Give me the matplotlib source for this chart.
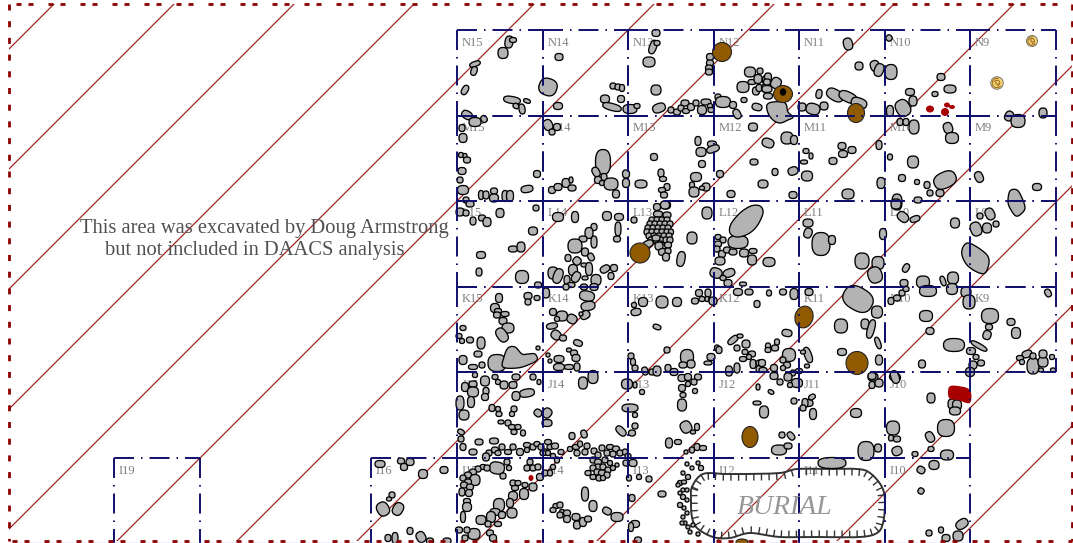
import numpy as np
import matplotlib as mpl
mpl.use('Agg')
import matplotlib.pyplot as plt
from matplotlib.patches import Ellipse, Polygon, Arc

plt.rcParams['lines.scale_dashes'] = False

grid_x = [457, 543, 628, 714, 799, 885, 970, 1056]
grid_y = [30, 115.5, 201, 287, 372, 458, 544]
row_names = ['N', 'M', 'L', 'K', 'J', 'I']
col_names = [15, 14, 13, 12, 11, 10, 9]
hatch_sums = [58, 178, 298, 418, 538, 658, 778, 898, 1018, 1138, 1258, 1378, 1498]

# x, y, width, height, angle
stones_n = [(509,42,7,11,10),(513,40,6,4),(503,53,9,10),(475,64,10,4,-20),(474,71,5,8,20),(465,90,5,9,30),
 (512,100,16,6,10),(527,101,6,3,20),(516,106,5,4,30),(522,109,5,9,-10),(467,115,10,7,30),(475,122,11,8),(484,119,5,6,-30),
 (559,57,7,6),(548,87,17,16,20),(558,106,8,6),(613,86,5,5),(618,87,5,5),(622,88,4,6),(605,99,8,7),(621,99,6,6),
 (612,107,18,6,15),(630,109,13,8),(637,106,5,4),(656,33,7,6),(653,47,6,13,20),(657,43,5,4),(649,62,11,9),(656,90,9,9),
 (659,108,12,8,-20),(671,110,5,5),(677,112,6,5),(681,108,5,5),(686,111,6,4),(685,103,7,5),(691,107,6,6),(696,103,5,5),
 (702,110,8,8),(706,102,9,5),(710,106,4,4),(711,110,5,4),(710,57,6,6),(710,63,6,5),(709,68,6,5),(709,72,6,5),
 (718,97,5,5),(723,102,14,10),(733,105,6,6),(744,100,5,4),(750,72,10,9),(760,71,5,5),(743,87,11,10),(752,82,7,4),
 (758,79,7,8),(756,91,6,7),(759,88,5,6),(766,80,6,8),(765,88,6,7),(757,107,9,6,15),(737,114,6,9,-30),(768,77,6,7),
 (767,82,6,5),(776,83,9,10,30),(767,89,9,6),(768,96,8,5),(848,44,8,11,-15),(802,107,7,7),(813,109,13,10,15),(824,106,7,7),
 (819,94,5,8,10),(835,95,17,10,30),(848,97,18,9,25),(859,103,15,9,20),(859,66,7,7),(875,66,8,10,-20),(879,70,8,12,20),
 (891,72,11,14),(889,38,5,5,40),(890,111,6,10),(903,108,13,16,-30),(913,101,7,9),(910,92,8,6),(941,77,7,6),(950,89,11,7),
 (935,94,5,4),(1043,113,7,9),(1009,116,7,9,30),(1018,121,13,12)]
stones_m = [(462,128,5,6),(463,138,7,8),(461,155,4,4),(465,156,3,4),(467,160,6,5),(462,171,7,6),(460,180,5,5),(463,190,10,8),
 (466,200,5,5),(470,204,7,5),(481,195,4,8),(486,195,5,7),(494,191,6,5),(494,198,8,7),(505,196,5,10),(510,196,6,10),
 (527,189,11,6,-10),(537,174,6,6),(548,125,8,10,-25),(557,127,6,6),(552,132,5,5),(603,162,14,24),(596,172,6,9,-30),
 (604,177,5,6),(598,180,6,6),(602,183,4,4),(611,184,13,11),(616,194,6,7),(552,190,6,6),(558,187,7,6),(566,183,7,8),
 (572,188,7,5),(571,180,3,5),(626,174,6,7),(626,183,6,8),(641,184,11,7),(654,157,6,6),(661,173,5,7),(663,179,6,4),
 (667,187,5,6),(662,190,6,4),(664,195,6,5),(666,205,8,7),(698,141,5,8),(712,144,8,5),(713,149,12,6,-20),(701,152,9,8),
 (702,164,6,6),(696,177,10,8),(692,185,4,5),(694,192,9,9),(706,187,7,7),(702,188,4,3),(720,174,6,6),(731,194,7,6),
 (753,127,8,7),(754,162,7,5),(763,184,9,7),(768,143,11,8,20),(787,138,11,11),(794,140,6,8),(806,151,5,4),(811,156,3,5),
 (804,162,6,3),(793,171,9,7,-20),(775,172,5,6),(807,176,10,9),(793,195,7,6),(842,146,7,6),(852,150,7,6),(843,154,8,6),
 (833,161,7,6),(848,194,11,9),(879,145,5,8),(890,157,4,5),(913,162,10,11),(902,178,6,6),(881,183,7,10),(917,182,4,4),
 (927,185,5,6),(930,193,5,5),(940,193,7,6),(945,180,22,15,-25),(897,202,9,15),(918,200,7,5),(900,122,5,6),(906,122,5,6),
 (914,127,9,13),(948,128,8,10,-20),(952,138,12,10),(979,177,7,10,-25),(1037,187,8,6)]
stones_l = [(460,212,7,7),(466,213,5,5),(473,221,5,7),(482,218,6,5),(487,222,7,8),(500,213,7,8),(536,208,5,5),(533,231,8,7),
 (481,255,8,6),(513,249,8,5),(521,247,7,9),(479,272,5,7),(522,277,12,12),(538,285,6,5),(558,217,10,8),(575,217,6,10),
 (607,216,8,8),(619,217,8,6),(634,220,5,5),(594,227,5,6),(589,233,7,10),(583,239,7,5),(594,242,5,11),(575,246,13,13),
 (585,252,6,7),(591,257,5,7,-30),(568,258,5,6),(577,261,7,7,40),(584,265,5,3),(589,269,6,12),(573,270,8,10),
 (605,269,9,6,-30),(614,268,6,6),(611,276,5,6),(576,277,7,10,30),(553,273,9,11),(558,276,8,14,20),(567,280,5,8),
 (585,278,5,3),(596,280,9,10),(571,285,7,4),(566,287,5,5),(584,287,6,5),(594,287,7,6),(618,229,5,13),(617,239,6,5),
 (665,205,8,7),(657,207,6,6),(658,214,8,5),(667,215,7,5),
 (652,220,5,5),(657,220,5,5),(662,220,5,5),(667,220,5,5),(650,224,5,5),(655,224,5,5),(660,224,5,5),(665,224,5,5),(670,224,5,5),
 (648,228,5,5),(653,228,5,5),(658,228,5,5),(663,228,5,5),(668,228,5,5),(647,232,5,5),(652,232,5,5),(657,232,5,5),(662,232,5,5),
 (667,232,5,5),(671,232,4,5),(649,236,5,5),(654,236,5,5),(659,236,5,5),(664,236,5,5),(669,236,5,5),(651,240,5,5),(656,240,5,5),
 (661,240,5,5),(666,240,5,5),(670,240,5,5),(660,244,5,5),(648,244,10,6,-25),(656,238,7,5),(659,246,7,7),(668,245,6,5),
 (663,252,8,6),(668,251,5,5),(666,257,6,7),(692,238,9,11),(681,259,7,14,10),(707,213,9,11),(738,242,19,12),(718,237,5,4),
 (723,240,5,5),(718,244,6,5),(717,249,5,5),(722,254,6,6),(727,250,6,5),(733,252,7,5),(744,253,8,7),(753,251,7,4),(752,260,8,9),
 (720,261,9,7),(716,273,11,9,20),(729,273,11,7,-20),(723,278,5,4),(728,283,7,6),(769,262,11,8),(808,223,9,7),
 (808,233,7,9,20),(821,244,17,22),(832,240,6,8),(883,234,6,10),(862,261,13,15),(878,263,11,12),(875,275,13,15,-20),(896,204,9,9),
 (903,217,11,8,40),(915,219,9,5,-20),(955,223,8,9),(906,268,5,8,30),(904,283,7,6),(923,282,12,11),(953,278,10,11),(943,281,4,9,-20),
 (980,216,5,5),(990,214,8,11,-25),(976,229,10,13,-20),(987,228,8,9),(996,224,5,5)]
stones_k = [(499,298,6,8),(528,296,7,6),(528,302,5,5),(537,298,5,4),(546,293,6,9),(495,308,8,8),(498,311,6,4),(497,315,6,5),
 (505,314,7,4),(503,321,7,6),(508,328,11,9),(502,335,9,14,-35),(463,328,5,4),(459,336,5,4),(462,341,4,4),(470,340,6,5),(481,343,7,11),
 (478,354,7,5),(463,360,7,8),(473,367,8,4),(482,365,5,5),(538,348,3,3),(548,355,3,3),(550,361,3,3),(497,363,17,16),(553,312,6,6),
 (562,316,10,9),(557,319,4,4),(572,319,9,8,30),(552,326,10,5,-10),(556,335,9,8,40),(563,338,6,5),(578,343,8,5,20),(569,350,4,3),
 (574,353,6,5),(576,358,7,6),(559,359,9,6),(559,367,10,6),(569,367,8,4),(577,367,5,7),(587,296,14,9,10),(588,306,13,8,-10),
 (585,315,9,7,-30),(581,314,3,3),(643,302,8,8),(634,305,4,4),(636,312,9,6,-10),(662,302,11,11),(677,302,8,8),(657,327,7,4,20),
 (667,350,5,5),(687,357,12,14),(691,364,7,7),(683,365,7,5),(631,356,5,5),(633,362,4,6),(635,368,5,5),(645,371,5,7,-20),(652,372,5,5),
 (657,371,7,9),(668,368,5,6),(674,372,7,6),(695,301,6,5),(699,293,6,6),(708,293,5,7),(702,299,5,4),(707,299,3,4),(713,301,7,7),
 (738,292,8,6),(743,284,6,3),(749,292,7,5),(757,304,5,6),(733,340,11,5,-40),(740,336,5,3),(746,344,7,7),(737,348,5,5),(745,352,5,4),
 (752,354,6,5),(743,359,6,4),(749,357,4,4),(753,364,5,8),(760,363,7,5),(760,369,7,6),(729,371,6,9),(737,368,5,9),(711,357,7,6),
 (708,363,7,3),(717,348,4,5),(719,350,5,6),(769,293,4,5),(783,292,6,5),(794,294,7,10),(809,292,7,6),(841,326,12,13),(877,312,10,11),
 (865,324,7,9),(871,329,6,18,15),(878,343,4,11,-20),(842,352,8,6),(787,333,9,6,10),(789,355,12,12),(808,355,6,15,-20),(803,352,4,3),
 (807,366,4,3),(799,371,6,4),(777,342,4,5),(768,346,4,5),(775,348,6,5),(768,350,5,4),(783,360,5,5),(787,365,6,5),(774,368,6,6),
 (762,363,6,6),(763,370,7,4),(783,368,4,4),(793,373,4,5),(879,360,6,9),(873,377,9,7),(891,301,5,6),(897,298,6,5),(902,293,5,5),
 (906,289,5,4),(928,291,16,10),(952,289,10,10),(966,292,9,9),(969,302,11,13),(926,316,12,10),(930,331,7,6),(954,345,20,12),
 (979,346,17,4,30),(971,351,8,6),(976,357,5,4),(981,363,6,5),(973,365,7,7),(970,372,8,8),(922,364,6,7),(1048,293,5,7,-30),
 (990,316,16,14),(989,327,6,5),(987,335,7,8,20),(1011,322,7,6),(1016,333,8,10),(1033,366,11,15),(1043,362,9,9),(1043,354,7,7),
 (1027,354,9,6,-20),(1020,358,6,4),(1052,357,4,4),(1033,356,5,5),(1041,370,4,3),(1022,362,4,4),(1053,370,4,3),(895,377,10,8,30),
 (858,299,30,22,30)]
stones_j = [(465,387,6,8),(473,384,7,5),(473,392,10,9),(485,381,8,9),(475,375,4,4),(495,377,5,4),(498,382,4,4),(504,385,7,7),(513,385,7,6),
 (516,377,7,5),(533,377,5,5),(539,382,3,4),(527,393,14,7,-10),(516,396,7,8),(486,391,5,6),(485,397,6,6),(460,403,7,13),(471,402,6,10),
 (464,415,9,9),(492,408,5,6),(498,409,4,4),(499,414,5,4),(514,409,5,5),(512,414,4,4),(538,413,7,6,40),(547,413,8,9,40),(547,423,9,6),
 (501,422,5,3),(508,423,5,5),(512,427,6,4),(518,427,5,4),(514,432,5,4),(523,433,4,5),(461,432,6,4,30),(461,439,5,5),(463,447,5,6),
 (479,442,7,5),(494,441,8,5),(473,452,7,5),(502,447,5,5),(508,452,6,4),(513,447,5,5),(520,452,6,6),(495,450,6,5),(489,453,5,5),
 (486,457,6,7),(498,453,5,4),(527,445,6,4),(527,450,4,4),(533,447,5,5),(537,444,5,4),(541,447,5,5),(545,452,5,5),(548,442,6,4),
 (550,447,5,4),(543,453,5,4),(555,446,6,5),(561,452,5,4),(548,453,4,4),(553,456,4,4),(572,436,5,6),(584,434,5,7,-20),(576,447,6,4),
 (580,444,4,5),(570,449,4,4),(587,446,5,5),(585,452,5,5),(577,453,5,5),(594,451,5,5),(602,448,5,5),(598,455,5,5),(610,447,6,4),
 (616,449,6,5),(620,453,5,5),(625,452,4,5),(628,456,5,4),(607,453,5,5),(613,454,5,5),(583,383,8,11),(593,377,9,12),(627,384,10,9),
 (635,385,3,5),(642,392,4,4),(630,408,15,7),(635,415,4,4),(635,426,5,5),(621,431,6,11,-45),(632,433,6,5),(682,378,7,6),(688,377,6,6),
 (698,377,6,5),(694,382,5,5),(682,388,6,6),(688,384,4,4),(683,395,5,4),(695,391,4,4),(682,405,8,11),(686,427,10,11,-30),(693,432,4,3),
 (697,427,4,6),(669,443,6,9),(678,442,6,4),(697,447,5,6),(703,448,6,4),(692,450,4,5),(686,452,3,3),(758,387,3,5),(757,403,7,3),
 (764,412,8,11),(771,392,5,3,30),(782,435,5,5),(791,436,5,8,-40),(779,450,14,9),(788,446,7,5),(794,401,5,5),(808,403,9,6),(805,403,5,8),
 (812,397,6,4,-30),(813,414,6,10),(803,408,5,5),(856,413,10,8),(774,376,7,6),(780,382,5,5),(788,377,7,7),(797,383,10,8),(790,385,4,4),
 (872,376,7,6),(872,385,5,6),(879,383,7,7),(895,377,7,12,-20),(931,398,7,9),(952,404,7,9),(957,405,8,9),(955,411,10,7),(893,428,12,13),
 (891,438,4,5),(897,439,6,5),(897,451,9,8,-20),(866,451,15,18),(878,448,6,7),(930,437,7,10,-30),(946,428,16,16),(931,449,5,4),
 (915,454,5,4),(947,455,12,9)]
stones_i = [(483,467,5,4),(478,469,5,5),(473,472,6,5),(468,475,6,5),(463,478,5,5),(475,480,9,10),(468,482,6,5),(464,485,6,5),(470,487,6,5),
 (462,492,5,7),(469,493,6,6),(467,501,6,4),(467,507,8,8),(463,517,4,10),(497,468,14,11,10),(487,468,5,5),(507,462,5,5),(509,468,4,4),
 (503,476,5,5),(530,462,5,5),(527,468,5,5),(533,468,5,5),(540,477,6,6),(545,473,5,5),(550,473,4,5),(557,460,4,5),(553,467,4,4),
 (538,467,5,5),(513,483,5,5),(518,483,5,4),(515,488,6,4),(525,485,5,4),(533,487,7,7),(524,494,8,10),(513,496,8,8),(510,503,6,8),
 (499,505,10,12),(495,512,9,6),(512,513,9,9),(502,515,6,6),(491,517,8,10),(481,520,9,8),(488,524,5,5),(498,524,6,4),(490,533,6,5),
 (474,534,11,10),(459,530,6,5),(467,530,5,5),(493,538,6,6),(465,538,5,5),(585,494,6,13),(593,506,7,10),(607,511,8,6,30),(617,517,11,8),
 (556,506,5,4),(560,505,5,5),(553,510,5,4),(562,512,4,4),(567,513,6,5),(560,515,5,5),(567,519,6,6),(576,517,7,6),(577,525,6,7),
 (583,522,6,8),(588,519,6,5),(593,460,5,5),(598,462,6,5),(605,460,5,5),(610,463,4,4),(598,467,5,5),(593,468,5,5),(603,467,5,5),
 (608,470,5,5),(613,468,4,4),(588,473,5,4),(597,472,5,5),(602,473,6,5),(607,475,5,5),(593,477,5,4),(599,478,5,5),(603,478,4,4),
 (617,465,3,3),(626,463,5,5),(633,463,7,6),(629,478,4,5),(639,477,4,4),(649,479,5,5),(632,498,5,6),(662,494,7,5),(635,524,8,6),
 (631,527,4,8),(638,540,6,5),(687,464,3,3),(692,468,3,3),(683,473,3,3),(688,477,4,4),(680,483,4,4),(684,482,4,3),(678,485,3,3),
 (698,463,3,3),(701,468,4,4),(683,490,3,3),(680,493,3,3),(683,497,4,4),(680,505,4,4),(687,500,3,3),(684,508,3,3),(687,513,3,3),
 (683,517,3,3),(685,523,3,3),(688,527,3,3),(690,532,3,3),(698,534,3,3),(693,525,3,3),(682,523,3,3),(687,490,3,3),
 (380,464,9,6),(401,461,6,5),(410,462,7,6),(404,467,6,6),(423,474,8,8),(444,470,7,6),(392,495,5,5),(389,499,4,3),(383,509,11,13,-30),
 (398,509,9,12,30),(410,531,5,6),(421,537,8,10,-30),(395,538,5,10),(388,538,5,6),(430,541,6,5),(447,541,7,5),
 (832,463,27,10),(934,465,9,8),(921,470,7,6,30),(921,491,5,5,30),(962,524,12,8,-35),(958,536,9,9),(946,538,7,6),(941,530,4,5),(929,533,5,5)]

# outlines of the bigger irregular stones
blob_n12 = [(767,105),(773,102),(785,103),(788,112),(793,117),(788,120),(780,123),(773,120),(768,113)]
blob_k15 = [(503,367),(504,357),(508,348),(515,347),(522,354),(528,354),(535,354),(537,360),(528,365),(517,368)]
blob_l9 = [(968,243),(977,247),(987,255),(989,263),(985,273),(977,272),(967,265),(962,255),(963,247)]
blob_m9 = [(1010,191),(1017,190),(1022,198),(1025,208),(1021,214),(1016,216),(1011,210),(1008,202)]
blob_l12 = [(760,206),(763,213),(757,226),(748,234),(737,237),(730,233),(731,224),(740,213),(751,206)]
blobs = [blob_n12, blob_k15, blob_l9, blob_m9, blob_l12]

brown_pits = [(722,52,19,19),(783,94,19,17),(856,113,17,19),(640,253,20,20),(804,317,18,22,15),(857,363,22,23),(750,437,16,21),(742,542,12,6)]
red_spots = [(930,109,8,7),(945,112,8,8),(947,105,6,5),(952,107,6,4),(531,478,5,6)]
red_block = [(949,387),(958,386),(970,390),(970,403),(958,400),(949,398)]
spirals = [(1032,41,11),(997,83,12.5)]
burial_outline = [(692,487),(703,474),(725,474),(747,474),(780,473),(797,469),(827,469),(857,469),(870,473),(882,487),(885,503),
 (883,523),(877,533),(860,537),(820,537),(780,537),(750,533),(730,538),(713,537),(697,528),(692,517),(691,502)]


def smooth_closed(pts, n=12):
    p = np.array(pts, dtype=float)
    out = []
    for i in range(len(p)):
        p0, p1, p2, p3 = p[i-1], p[i], p[(i+1) % len(p)], p[(i+2) % len(p)]
        for t in np.linspace(0, 1, n, endpoint=False):
            out.append(0.5*((2*p1) + (p2-p0)*t + (2*p0-5*p1+4*p2-p3)*t**2 + (3*p1-p0-3*p2+p3)*t**3))
    return np.array(out)


def stone_shape(s, grow=1.0):
    # slightly boxy ellipse, the stones are chunkier than a true ellipse
    ang = np.radians(s[4] if len(s) > 4 else 0)
    t = np.linspace(0, 2*np.pi, 28, endpoint=False)
    e = 2/2.5
    x = (s[2]+grow)/2*np.sign(np.cos(t))*np.abs(np.cos(t))**e
    y = (s[3]+grow)/2*np.sign(np.sin(t))*np.abs(np.sin(t))**e
    return np.column_stack([s[0]+x*np.cos(ang)-y*np.sin(ang), s[1]+x*np.sin(ang)+y*np.cos(ang)])


def add_stones(ax, stones, face, z=4):
    for s in stones:
        ax.add_patch(Polygon(stone_shape(s), closed=True, fc=face, ec='black', lw=0.95, zorder=z))


def add_cell(ax, x0, x1, y0, y1, name):
    dash = (0, (20*0.72, 7*0.72, 1.5*0.72, 7*0.72))
    for xs, ys in [([x0, x1], [y0, y0]), ([x0, x1], [y1, y1]), ([x0, x0], [y0, y1]), ([x1, x1], [y0, y1])]:
        ax.plot(xs, ys, color='#10106e', lw=1.4, linestyle=dash, dash_capstyle='butt', zorder=5)
    ax.text(x0+5, y0+12.5, name, family='Liberation Serif', fontsize=9, color='#808080', va='center', ha='left', zorder=2)


fig = plt.figure(figsize=(10.73, 5.43), dpi=100)
ax = fig.add_axes([0, 0, 1, 1])
ax.set_xlim(0, 1073)
ax.set_ylim(543, 0)
ax.axis('off')

# diagonal hatching, clipped to the excavation boundary
frame = plt.Rectangle((8.5, 4), 1063.5, 536.5, transform=ax.transData)
for s in hatch_sums:
    line, = ax.plot([-100, 1300], [s+100, s-1300], color='#9a1c1c', lw=0.85, zorder=1)
    line.set_clip_path(frame)

# excavation units
for i, row in enumerate(row_names[:4]):
    for j, col in enumerate(col_names):
        add_cell(ax, grid_x[j], grid_x[j+1], grid_y[i], grid_y[i+1], row+str(col))
for j, col in enumerate(col_names[:6]):
    add_cell(ax, grid_x[j], grid_x[j+1], grid_y[4], grid_y[5], 'J'+str(col))
    add_cell(ax, grid_x[j], grid_x[j+1], grid_y[5], grid_y[6], 'I'+str(col))
add_cell(ax, 114, 200, 458, 544, 'I19')
add_cell(ax, 371, 457, 458, 544, 'I16')

# stones and features
for group in [stones_n, stones_m, stones_l, stones_k, stones_j, stones_i]:
    add_stones(ax, group, '#b3b3b3')
for b in blobs:
    ax.add_patch(Polygon(smooth_closed(b), closed=True, fc='#b3b3b3', ec='black', lw=0.95, zorder=4))
for s in brown_pits:
    ang = s[4] if len(s) > 4 else 0
    ax.add_patch(Ellipse((s[0], s[1]), s[2], s[3], angle=ang, fc='#8f5a00', ec='#222222', lw=0.8, zorder=4.5))
ax.add_patch(Ellipse((783, 92), 5, 6, fc='black', ec='black', zorder=4.6))
for s in red_spots:
    ax.add_patch(Ellipse((s[0], s[1]), s[2], s[3], fc='#a80000', ec='none', zorder=4.5))
ax.add_patch(Polygon(smooth_closed(red_block, 4), closed=True, fc='#a80000', ec='none', zorder=4.5))
for x, y, d in spirals:
    ax.add_patch(Ellipse((x, y), d, d, fc='#f5d070', ec='#777777', lw=0.7, zorder=4.5))
    for r, a0 in [(0.75, 40), (0.45, 200), (0.2, 0)]:
        ax.add_patch(Arc((x, y), d*r, d*r, theta1=a0, theta2=a0+250, color='#8a5a10', lw=0.6, zorder=4.6))

# burial shaft outline with inward ticks
outline = smooth_closed(burial_outline)
outline = np.vstack([outline, outline[0]])
ax.plot(outline[:, 0], outline[:, 1], color='#333333', lw=1.4, zorder=3)
seg = np.hypot(*np.diff(outline, axis=0).T)
dist = np.concatenate([[0], np.cumsum(seg)])
pos = np.arange(0, dist[-1], 7.6)
px = np.interp(pos, dist, outline[:, 0])
py = np.interp(pos, dist, outline[:, 1])
tx = np.interp(pos+0.5, dist, outline[:, 0]) - px
ty = np.interp(pos+0.5, dist, outline[:, 1]) - py
nrm = np.hypot(tx, ty)
for xi, yi, a, b in zip(px, py, -ty/nrm, tx/nrm):
    ax.plot([xi, xi+a*6], [yi, yi+b*6], color='#333333', lw=1.0, zorder=3)

ax.text(785, 507, 'BURIAL', family='Liberation Serif', style='italic', fontsize=20, color='#969696', ha='center', va='center', zorder=6)
ax.text(264.5, 229, 'This area was excavated by Doug Armstrong', family='Liberation Serif', fontsize=14.8, color='#505050', ha='center', va='center', zorder=6)
ax.text(254.5, 251, 'but not included in DAACS analysis', family='Liberation Serif', fontsize=14.8, color='#505050', ha='center', va='center', zorder=6)

# boundary of the excavated area
ax.plot([10, 970], [542.6, 542.6], color='#b5b5dc', lw=1, zorder=6)
pair = (0, (5*0.72, 7*0.72, 5*0.72, 15*0.72))
even = (0, (6*0.72, 10.7*0.72))
bcol = '#8b0000'
ax.plot([16, 1072], [4, 4], color=bcol, lw=2.0, linestyle=pair, dash_capstyle='butt', zorder=7)
ax.plot([12, 1072], [540.5, 540.5], color=bcol, lw=2.0, linestyle=pair, dash_capstyle='butt', zorder=7)
ax.plot([8.5, 8.5], [4, 541], color=bcol, lw=2.0, linestyle=even, dash_capstyle='butt', zorder=7)
ax.plot([1072, 1072], [4, 541], color=bcol, lw=2.0, linestyle=even, dash_capstyle='butt', zorder=7)

fig.savefig('out.png', dpi=100)
plt.close()
